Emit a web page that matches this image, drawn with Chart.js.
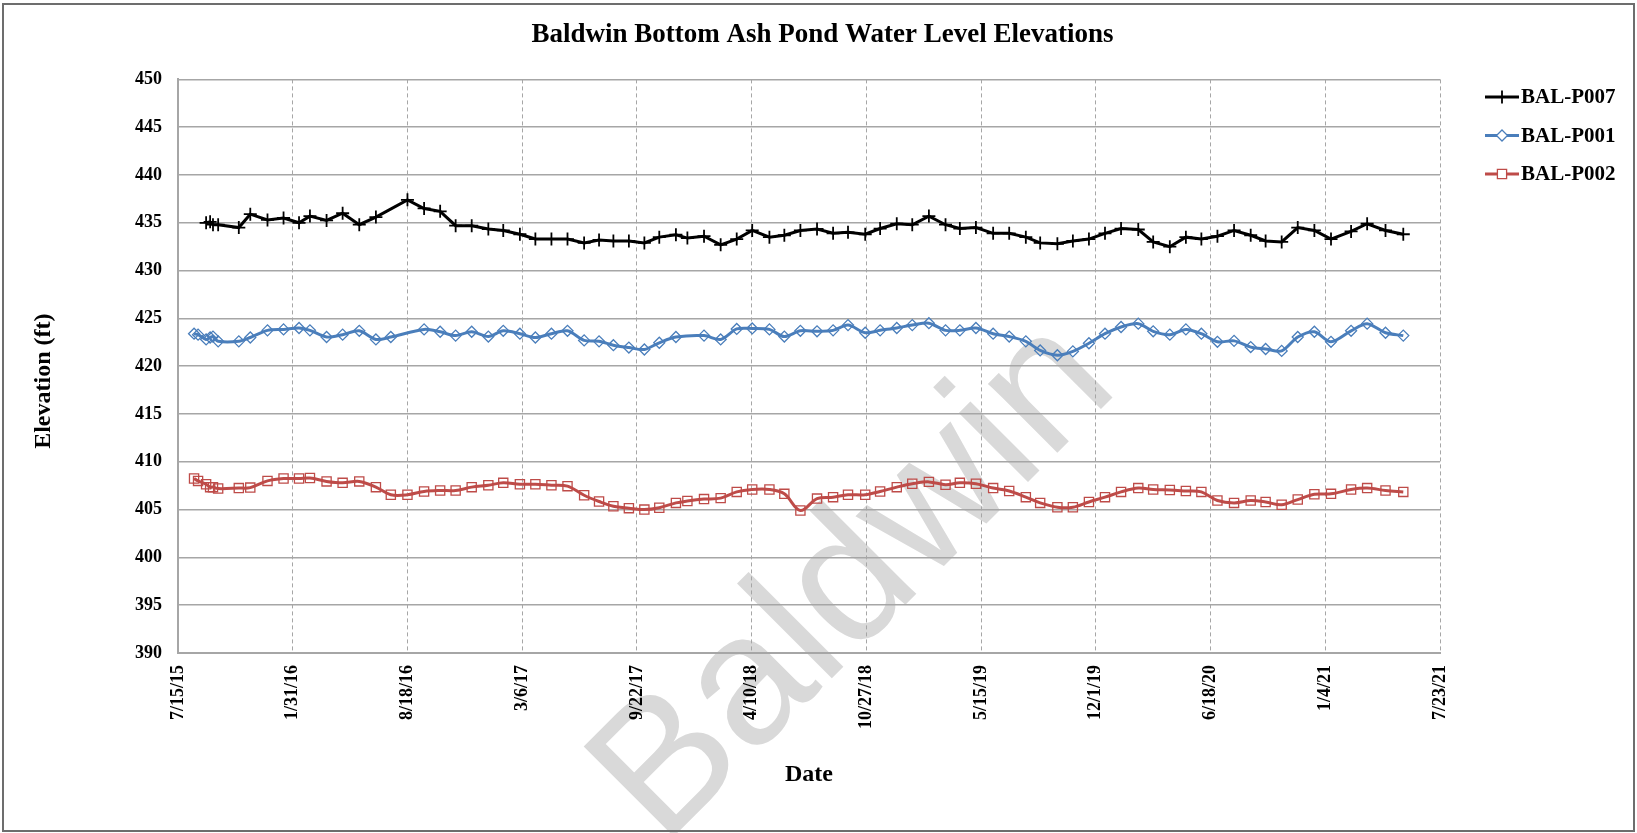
<!DOCTYPE html>
<html>
<head>
<meta charset="utf-8">
<title>Baldwin Bottom Ash Pond Water Level Elevations</title>
<script src="https://cdn.jsdelivr.net/npm/chart.js@4.4.1/dist/chart.umd.min.js"></script>
<style>
  html, body { margin: 0; padding: 0; background: #fff; }
  #wrap { width: 1637px; height: 833px; }
</style>
</head>
<body>
<div id="wrap"><canvas id="levelChart" width="1637" height="833"></canvas></div>
<script>
// --------------------------------
// Data
// --------------------------------
const sampleDates = [
  "2015-08-12", "2015-08-19", "2015-09-02", "2015-09-09", "2015-09-14", "2015-09-23", "2015-10-29", "2015-11-18", "2015-12-18", "2016-01-15",
  "2016-02-11", "2016-03-01", "2016-03-30", "2016-04-27", "2016-05-26", "2016-06-24", "2016-07-20", "2016-08-18", "2016-09-16", "2016-10-14",
  "2016-11-10", "2016-12-08", "2017-01-06", "2017-02-01", "2017-03-02", "2017-03-29", "2017-04-26", "2017-05-24", "2017-06-22", "2017-07-18",
  "2017-08-12", "2017-09-08", "2017-10-05", "2017-10-31", "2017-11-29", "2017-12-19", "2018-01-17", "2018-02-15", "2018-03-15", "2018-04-11",
  "2018-05-11", "2018-06-06", "2018-07-04", "2018-08-02", "2018-08-30", "2018-09-25", "2018-10-25", "2018-11-20", "2018-12-19", "2019-01-15",
  "2019-02-13", "2019-03-14", "2019-04-08", "2019-05-06", "2019-06-05", "2019-07-03", "2019-08-01", "2019-08-26", "2019-09-25", "2019-10-22",
  "2019-11-19", "2019-12-17", "2020-01-14", "2020-02-13", "2020-03-10", "2020-04-08", "2020-05-06", "2020-06-02", "2020-06-30", "2020-07-29",
  "2020-08-27", "2020-09-22", "2020-10-20", "2020-11-17", "2020-12-16", "2021-01-14", "2021-02-18", "2021-03-18", "2021-04-19", "2021-05-20"
];

// null = not measured on that date
const p007Levels = [
  null, null, 435.0, 435.1, 434.8, 434.8, 434.5, 435.9, 435.3, 435.5,
  435.0, 435.7, 435.25, 436.0, 434.8, 435.6, null, 437.4, 436.5, 436.2,
  434.7, 434.7, 434.35, 434.2, 433.8, 433.3, 433.3, 433.3, 432.9, 433.2,
  433.1, 433.1, 432.9, 433.5, 433.75, 433.4, 433.6, 432.7, 433.3, 434.2,
  433.5, 433.7, 434.2, 434.35, 433.9, 434.0, 433.8, 434.4, 434.9, 434.8,
  435.7, 434.8, 434.4, 434.5, 433.9, 433.9, 433.5, 432.9, 432.8, 433.1,
  433.3, 433.9, 434.4, 434.3, 433.0, 432.5, 433.5, 433.3, 433.6, 434.2,
  433.7, 433.1, 433.0, 434.5, 434.2, 433.3, 434.1, 434.9, 434.2, 433.8
];

const p001Levels = [
  423.4, 423.3, 422.8, 423.0, 423.1, 422.6, 422.6, 423.0, 423.75, 423.85,
  424.0, 423.75, 423.05, 423.3, 423.7, 422.8, 423.05, null, 423.85, 423.6,
  423.2, 423.6, 423.1, 423.7, 423.4, 423.0, 423.4, 423.7, 422.7, 422.6,
  422.2, 421.95, 421.75, 422.45, 423.05, null, 423.2, 422.8, 423.9, 423.95,
  423.85, 423.1, 423.7, 423.65, 423.75, 424.3, 423.5, 423.75, 424.0, 424.3,
  424.5, 423.75, 423.75, 424.0, 423.4, 423.1, 422.6, 421.65, 421.15, 421.55,
  422.4, 423.4, 424.1, 424.45, 423.65, 423.3, 423.85, 423.4, 422.55, 422.65,
  422.0, 421.8, 421.6, 423.05, 423.6, 422.55, 423.7, 424.45, 423.5, 423.2
];

const p002Levels = [
  408.25, 408.0, 407.65, 407.35, 407.35, 407.2, 407.25, 407.3, 408.0, 408.25,
  408.25, 408.3, 407.95, 407.8, 407.95, 407.35, 406.55, 406.55, 406.9, 407.0,
  407.0, 407.35, 407.55, 407.8, 407.65, 407.65, 407.55, 407.45, 406.5, 405.85,
  405.35, 405.15, 405.0, 405.2, 405.7, 405.9, 406.1, 406.2, 406.85, 407.1,
  407.1, 406.65, 404.9, 406.15, 406.3, 406.55, 406.55, 406.9, 407.35, 407.7,
  407.9, 407.6, 407.8, 407.7, 407.25, 406.95, 406.3, 405.7, 405.25, 405.25,
  405.8, 406.3, 406.85, 407.25, 407.1, 407.05, 406.95, 406.85, 405.95, 405.7,
  405.95, 405.8, 405.5, 406.05, 406.6, 406.65, 407.1, 407.25, 407.0, 406.85
];

const xTickDates = [
  "7/15/15", "1/31/16", "8/18/16", "3/6/17", "9/22/17", "4/10/18",
  "10/27/18", "5/15/19", "12/1/19", "6/18/20", "1/4/21", "7/23/21"
];
const yTickValues = [390, 395, 400, 405, 410, 415, 420, 425, 430, 435, 440, 445, 450];

// -------------------------------
// Helpers
// -------------------------------
const SERIF = '"Liberation Serif", "Times New Roman", serif';
const DAY_MS = 86400000;

const parseMDY = (s) => {
  const [m, d, y] = s.split("/").map(Number);
  return Date.UTC(2000 + y, m - 1, d);
};
const axisStart = parseMDY(xTickDates[0]);

const dayOffset = (iso) => {
  const [y, m, d] = iso.split("-").map(Number);
  return (Date.UTC(y, m - 1, d) - axisStart) / DAY_MS;
};

const toPoints = (levels) =>
  sampleDates
    .map((d, i) => ({ x: dayOffset(d), y: levels[i] }))
    .filter((p) => p.y !== null);

const tickStep = (parseMDY(xTickDates[1]) - axisStart) / DAY_MS;
const xMax = (parseMDY(xTickDates[xTickDates.length - 1]) - axisStart) / DAY_MS;
const yMin = yTickValues[0];
const yMax = yTickValues[yTickValues.length - 1];

// -------------------------------
// Plugins: background, watermark, frame, legend
// -------------------------------
const watermarkPlugin = {
  id: "watermark",
  beforeDraw(chart) {
    const { ctx, width, height } = chart;
    ctx.save();
    ctx.fillStyle = "#ffffff";
    ctx.fillRect(0, 0, width, height);
    ctx.translate(856, 582);
    ctx.rotate(-45 * Math.PI / 180);
    ctx.font = '185px "Liberation Sans", Arial, sans-serif';
    ctx.fillStyle = "#d9d9d9";
    ctx.textAlign = "center";
    ctx.textBaseline = "middle";
    ctx.fillText("Baldwin", 0, 0);
    ctx.restore();
  },
};

function drawMarker(ctx, style, x, y, color) {
  ctx.save();
  ctx.strokeStyle = color;
  ctx.beginPath();
  if (style === "cross") {
    ctx.lineWidth = 1.8;
    ctx.moveTo(x - 6.5, y); ctx.lineTo(x + 6.5, y);
    ctx.moveTo(x, y - 6.5); ctx.lineTo(x, y + 6.5);
  } else if (style === "rectRot") {
    ctx.lineWidth = 1.3;
    ctx.fillStyle = "#ffffff";
    ctx.moveTo(x, y - 5.5); ctx.lineTo(x + 5.5, y);
    ctx.lineTo(x, y + 5.5); ctx.lineTo(x - 5.5, y);
    ctx.closePath();
    ctx.fill();
  } else {
    ctx.lineWidth = 1.3;
    ctx.fillStyle = "#ffffff";
    ctx.rect(x - 4.6, y - 4.6, 9.2, 9.2);
    ctx.fill();
  }
  ctx.stroke();
  ctx.restore();
}

const frameLegendPlugin = {
  id: "frameLegend",
  afterDraw(chart) {
    const { ctx } = chart;
    // outer frame
    ctx.save();
    ctx.strokeStyle = "#6d6d6d";
    ctx.lineWidth = 2;
    ctx.strokeRect(3, 4, 1631, 827);
    ctx.restore();

    // legend
    const lx = 1485;
    chart.data.datasets.forEach((ds, i) => {
      const y = 97 + i * 38.5;
      ctx.save();
      ctx.strokeStyle = ds.borderColor;
      ctx.lineWidth = 3;
      ctx.beginPath();
      ctx.moveTo(lx, y);
      ctx.lineTo(lx + 34, y);
      ctx.stroke();
      ctx.restore();
      drawMarker(ctx, ds.pointStyle, lx + 17, y, ds.borderColor);
      ctx.save();
      ctx.fillStyle = "#000";
      ctx.font = "bold 21px " + SERIF;
      ctx.textAlign = "left";
      ctx.textBaseline = "middle";
      ctx.fillText(ds.label, lx + 36, y + 1);
      ctx.restore();
    });
  },
};

// -------------------------------
// Chart
// -------------------------------
const ctx = document.getElementById("levelChart").getContext("2d");

new Chart(ctx, {
  type: "line",
  data: {
    datasets: [
      {
        label: "BAL-P007",
        data: toPoints(p007Levels),
        borderColor: "#000000",
        borderWidth: 3,
        tension: 0,
        pointStyle: "cross",
        pointRadius: 6.5,
        pointBorderWidth: 1.8,
        pointBorderColor: "#000000",
      },
      {
        label: "BAL-P001",
        data: toPoints(p001Levels),
        borderColor: "#4a7ebb",
        borderWidth: 3,
        tension: 0.3,
        pointStyle: "rectRot",
        pointRadius: 5.5,
        pointBorderWidth: 1.3,
        pointBorderColor: "#4a7ebb",
        pointBackgroundColor: "rgba(255,255,255,0)",
      },
      {
        label: "BAL-P002",
        data: toPoints(p002Levels),
        borderColor: "#be4b48",
        borderWidth: 3,
        tension: 0.35,
        pointStyle: "rect",
        pointRadius: 6.5,
        pointBorderWidth: 1.3,
        pointBorderColor: "#be4b48",
        pointBackgroundColor: "rgba(255,255,255,0)",
      },
    ],
  },
  options: {
    responsive: false,
    animation: false,
    layout: { padding: { left: 8, right: 0, top: 0, bottom: 5 } },
    plugins: {
      legend: { display: false },
      tooltip: { enabled: false },
      title: {
        display: true,
        text: "Baldwin Bottom Ash Pond Water Level Elevations",
        color: "#000",
        font: { family: SERIF, size: 27, weight: "bold" },
        padding: { top: 19, bottom: 28 },
      },
    },
    scales: {
      x: {
        type: "linear",
        min: 0,
        max: xMax,
        ticks: {
          stepSize: tickStep,
          autoSkip: false,
          maxRotation: 90,
          minRotation: 90,
          padding: 12,
          color: "#000",
          font: { family: SERIF, size: 18, weight: "bold" },
          callback: (v) => xTickDates[Math.round(v / tickStep)] || "",
        },
        grid: { color: "#a6a6a6", lineWidth: 1, drawTicks: false },
        border: { display: true, color: "#a6a6a6", width: 2, dash: [4, 3] },
        title: {
          display: true,
          text: "Date",
          color: "#000",
          font: { family: SERIF, size: 24, weight: "bold" },
          padding: { top: 0, bottom: 39 },
        },
        afterFit: (scale) => { scale.height = 175; },
      },
      y: {
        min: yMin,
        max: yMax,
        ticks: {
          stepSize: yTickValues[1] - yTickValues[0],
          padding: 16,
          color: "#000",
          font: { family: SERIF, size: 18, weight: "bold" },
        },
        grid: { color: "#a6a6a6", lineWidth: 1.5, drawTicks: false },
        border: { display: true, color: "#a6a6a6", width: 2 },
        title: {
          display: true,
          // trailing spaces push the label a little below the axis centre, as in the original
          text: "Elevation (ft)" + "\u00a0".repeat(5),
          color: "#000",
          font: { family: SERIF, size: 24, weight: "bold" },
          padding: { top: 21, bottom: 0 },
        },
        afterFit: (scale) => { scale.width = 170; },
      },
      // empty right-hand axis that reserves the legend column
      legendSpace: {
        position: "right",
        min: yMin,
        max: yMax,
        ticks: { display: false },
        grid: { display: false, drawTicks: false },
        border: { display: false },
        afterFit: (scale) => { scale.width = 197; },
      },
    },
  },
  plugins: [watermarkPlugin, frameLegendPlugin],
});
</script>
</body>
</html>
